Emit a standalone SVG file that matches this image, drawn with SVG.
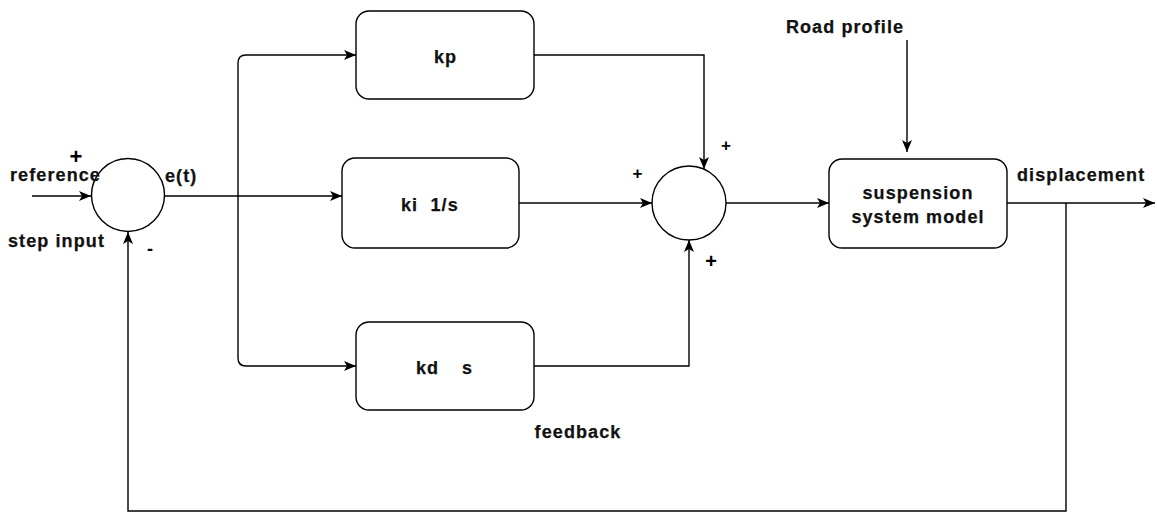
<svg xmlns="http://www.w3.org/2000/svg" width="1157" height="514" viewBox="0 0 1157 514">
  <style>
    .blk { fill: #ffffff; stroke: #000000; stroke-width: 1.4; }
    .wire { fill: none; stroke: #000000; stroke-width: 1.4; }
    .lbl { font-family: "Liberation Sans", Arial, Helvetica, sans-serif; font-weight: bold; font-size: 18px; letter-spacing: 1.1px; fill: #111111; stroke: #111111; stroke-width: 0.25; white-space: pre; }
    .mid { text-anchor: middle; }
    .sign { font-family: "Liberation Sans", Arial, Helvetica, sans-serif; font-weight: bold; fill: #000000; text-anchor: middle; }
  </style>
  <defs>
    <marker id="arrow" markerUnits="userSpaceOnUse" markerWidth="14" markerHeight="12" refX="12" refY="6" orient="auto">
      <path d="M0,1 L12,6 L0,11 L3,6 z" fill="#000000"/>
    </marker>
  </defs>

  <rect width="1157" height="514" fill="#ffffff"/>

  <!-- signal lines -->
  <g id="connectors">
    <!-- reference input -->
    <path class="wire" d="M32,196 H91" marker-end="url(#arrow)"/>
    <!-- error to integral branch -->
    <path class="wire" d="M164,196 H342" marker-end="url(#arrow)"/>
    <!-- error to proportional branch -->
    <path class="wire" d="M238,196 V63 Q238,55 246,55 H356" marker-end="url(#arrow)"/>
    <!-- error to derivative branch -->
    <path class="wire" d="M238,196 V358 Q238,366 246,366 H356" marker-end="url(#arrow)"/>
    <!-- branch outputs into the summing junction -->
    <path class="wire" d="M534,55 H704 V169" marker-end="url(#arrow)"/>
    <path class="wire" d="M519,203 H652" marker-end="url(#arrow)"/>
    <path class="wire" d="M534,366 H689 V240" marker-end="url(#arrow)"/>
    <!-- controller output to plant -->
    <path class="wire" d="M726,203 H829" marker-end="url(#arrow)"/>
    <!-- road disturbance -->
    <path class="wire" d="M907,40 V152" marker-end="url(#arrow)"/>
    <!-- plant output -->
    <path class="wire" d="M1007,203 H1155" marker-end="url(#arrow)"/>
    <!-- feedback loop -->
    <path class="wire" d="M1066,203 V511 H128 V232" marker-end="url(#arrow)"/>
  </g>

  <g id="sum-error">
    <circle class="blk" cx="128" cy="195" r="36.5"/>
  </g>

  <g id="block-kp">
    <rect class="blk" x="356" y="11" width="178" height="88" rx="13" ry="13"/>
    <text class="lbl" x="434" y="63">kp</text>
  </g>

  <g id="block-ki">
    <rect class="blk" x="342" y="158" width="177" height="90" rx="13" ry="13"/>
    <text class="lbl" x="401" y="211">ki  1/s</text>
  </g>

  <g id="block-kd">
    <rect class="blk" x="356" y="322" width="178" height="88" rx="13" ry="13"/>
    <text class="lbl" x="416" y="374">kd<tspan x="462">s</tspan></text>
  </g>

  <g id="sum-controller">
    <circle class="blk" cx="689" cy="203" r="37"/>
  </g>

  <g id="block-plant">
    <rect class="blk" x="829" y="159" width="178" height="89" rx="13" ry="13"/>
    <text class="lbl mid" x="918" y="199">suspension</text>
    <text class="lbl mid" x="918" y="223">system model</text>
  </g>

  <!-- free labels -->
  <g id="labels">
    <text class="lbl" x="10" y="181">reference</text>
    <text class="lbl" x="8" y="247">step input</text>
    <text class="lbl" x="165" y="182">e(t)</text>
    <text class="lbl mid" x="845" y="33">Road profile</text>
    <text class="lbl" x="1017" y="181">displacement</text>
    <text class="lbl mid" x="578" y="438">feedback</text>
    <text class="sign" x="76" y="164" font-size="22">+</text>
    <text class="sign" x="150" y="255" font-size="18">-</text>
    <text class="sign" x="637.5" y="179" font-size="17">+</text>
    <text class="sign" x="726" y="151" font-size="17">+</text>
    <text class="sign" x="711" y="268" font-size="20">+</text>
  </g>
</svg>
